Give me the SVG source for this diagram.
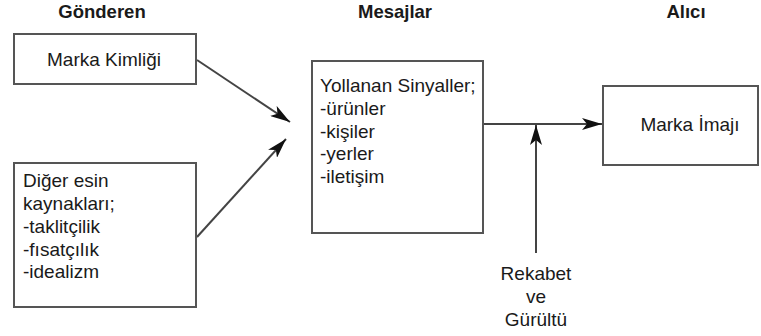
<svg xmlns="http://www.w3.org/2000/svg" width="761" height="336" viewBox="0 0 761 336">
<style>
.box{fill:#fff;stroke:#555;stroke-width:2}
.t{font-family:"Liberation Sans",Arial,sans-serif;font-size:19px;fill:#1a1a1a}
.h{font-family:"Liberation Sans",Arial,sans-serif;font-size:18.5px;font-weight:bold;fill:#1a1a1a;text-anchor:middle}
.c{text-anchor:middle}
.ln{stroke:#444;stroke-width:2;fill:none}
</style>
<defs>
<marker id="ah" viewBox="0 0 20 12" refX="20" refY="6" markerWidth="20" markerHeight="12" markerUnits="userSpaceOnUse" orient="auto">
<path d="M0,0 L20,6 L0,12 L5,6 Z" fill="#111"/>
</marker>
</defs>
<rect width="761" height="336" fill="#fff"/>
<g id="headings">
<text class="h" x="102" y="18">Gönderen</text>
<text class="h" x="395" y="18">Mesajlar</text>
<text class="h" x="686" y="18">Alıcı</text>
</g>
<g id="connectors">
<line class="ln" x1="197" y1="60" x2="290" y2="122" marker-end="url(#ah)"/>
<line class="ln" x1="197" y1="237" x2="286" y2="139" marker-end="url(#ah)"/>
<line class="ln" x1="483" y1="124" x2="602" y2="124" marker-end="url(#ah)"/>
<line class="ln" x1="536" y1="253" x2="536" y2="125" marker-end="url(#ah)"/>
</g>
<g id="marka-kimligi">
<rect class="box" x="14" y="34" width="182" height="50"/>
<text class="t c" x="104" y="66">Marka Kimliği</text>
</g>
<g id="diger-esin">
<rect class="box" x="14" y="163" width="182" height="144"/>
<text class="t" x="23" y="187">Diğer esin</text>
<text class="t" x="23" y="210">kaynakları;</text>
<text class="t" x="23" y="233">-taklitçilik</text>
<text class="t" x="23" y="256">-fısatçılık</text>
<text class="t" x="23" y="278">-idealizm</text>
</g>
<g id="yollanan">
<rect class="box" x="312" y="61" width="171" height="172"/>
<text class="t" x="320" y="92">Yollanan Sinyaller;</text>
<text class="t" x="320" y="115">-ürünler</text>
<text class="t" x="320" y="138">-kişiler</text>
<text class="t" x="320" y="160">-yerler</text>
<text class="t" x="320" y="183">-iletişim</text>
</g>
<g id="marka-imaji">
<rect class="box" x="603" y="86" width="155" height="79"/>
<text class="t c" x="690" y="131">Marka İmajı</text>
</g>
<g id="rekabet">
<text class="t c" x="536" y="280">Rekabet</text>
<text class="t c" x="536" y="303">ve</text>
<text class="t c" x="536" y="326">Gürültü</text>
</g>
</svg>
